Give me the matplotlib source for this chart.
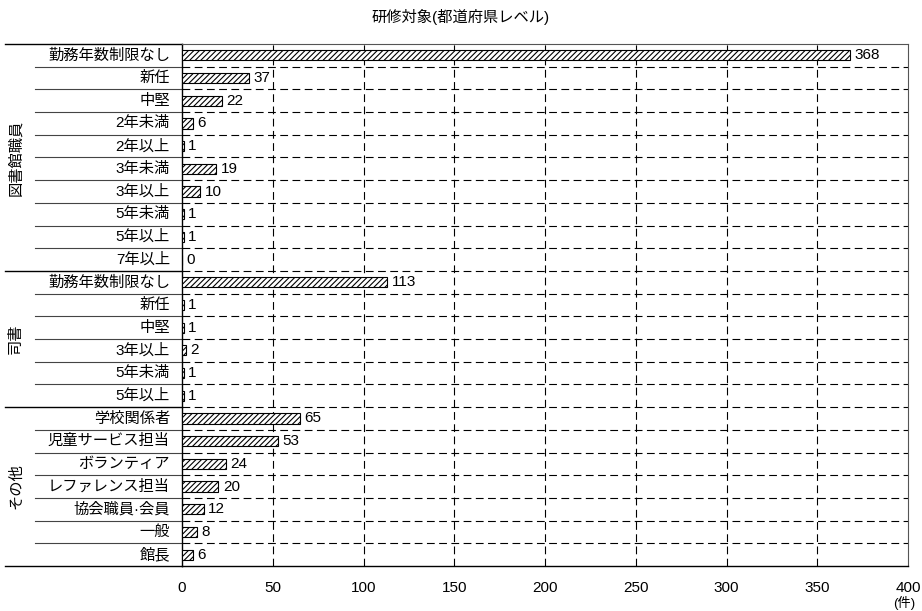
import matplotlib
matplotlib.use("Agg")
import matplotlib.pyplot as plt
import numpy as np

plt.rcParams['font.family'] = ['Liberation Sans', 'Noto Sans CJK JP', 'DejaVu Sans']
plt.rcParams['hatch.linewidth'] = 0.8

# data
groups = ["図書館職員", "司書", "その他"]
labels_staff = ["勤務年数制限なし", "新任", "中堅", "2年未満", "2年以上",
                "3年未満", "3年以上", "5年未満", "5年以上", "7年以上"]
values_staff = [368, 37, 22, 6, 1, 19, 10, 1, 1, 0]
labels_lib = ["勤務年数制限なし", "新任", "中堅", "3年以上", "5年未満", "5年以上"]
values_lib = [113, 1, 1, 2, 1, 1]
labels_other = ["学校関係者", "児童サービス担当", "ボランティア", "レファレンス担当",
                "協会職員·会員", "一般", "館長"]
values_other = [65, 53, 24, 20, 12, 8, 6]
xticks = [0, 50, 100, 150, 200, 250, 300, 350, 400]

labels = labels_staff + labels_lib + labels_other
values = values_staff + values_lib + values_other
sizes = [len(labels_staff), len(labels_lib), len(labels_other)]
n = len(labels)

fig = plt.figure(figsize=(9.22, 6.11), dpi=100)
ax = fig.add_axes([182 / 922, 1 - 566 / 611, 726 / 922, 522 / 611])

y = np.arange(n)
ax.barh(y, values, height=0.45, color="white", edgecolor="black",
        hatch="//////", linewidth=0.8, zorder=3)
for yi, v in zip(y, values):
    ax.text(v + 2.5, yi, str(v), va="center", ha="left", fontsize=11, zorder=4)

ax.set_xlim(0, 400)
ax.set_ylim(n - 0.5, -0.5)
ax.set_yticks([])
ax.set_xticks(xticks)
ax.set_xticklabels([str(t) for t in xticks], fontsize=11)
ax.tick_params(axis="x", length=0, pad=11)

# grid
for b in np.arange(0.5, n - 0.5):
    ax.axhline(b, color="black", lw=0.8, ls=(0, (7, 4)), zorder=1)
for t in xticks[1:-1]:
    ax.axvline(t, color="black", lw=0.8, ls=(0, (7, 4)), zorder=1)

for s in ["top", "right"]:
    ax.spines[s].set_color("#555555")
    ax.spines[s].set_linewidth(0.8)
ax.spines["left"].set_linewidth(1.0)
ax.spines["bottom"].set_linewidth(1.0)

# row labels and left-side table lines
x_lab = (170 - 182) / 726
x_inner = (35 - 182) / 726
x_outer = (5 - 182) / 726
trans = ax.get_yaxis_transform()
for yi, lab in enumerate(labels):
    ax.text(x_lab, yi, lab, transform=trans, ha="right", va="center", fontsize=11)

start = 0
bounds = []
for g, sz in zip(groups, sizes):
    mid = start + (sz - 1) / 2
    ax.text(x_outer + 0.015, mid, g, transform=trans, ha="center", va="center",
            rotation=90, fontsize=11)
    bounds.append(start - 0.5)
    for k in range(1, sz):
        b = start + k - 0.5
        ax.plot([x_inner, 0], [b, b], transform=trans, color="#444444", lw=0.8,
                clip_on=False)
    start += sz
bounds.append(n - 0.5)
for b in bounds:
    ax.plot([x_outer, 0], [b, b], transform=trans, color="black", lw=1.0,
            clip_on=False)

ax.text(398, -0.058, "(件)", transform=ax.get_xaxis_transform(), ha="center",
        va="top", fontsize=9.5)

fig.text(0.5, 1 - 17 / 611, "研修対象(都道府県レベル)", ha="center", va="center",
         fontsize=11)

fig.savefig("out.png", dpi=100)
